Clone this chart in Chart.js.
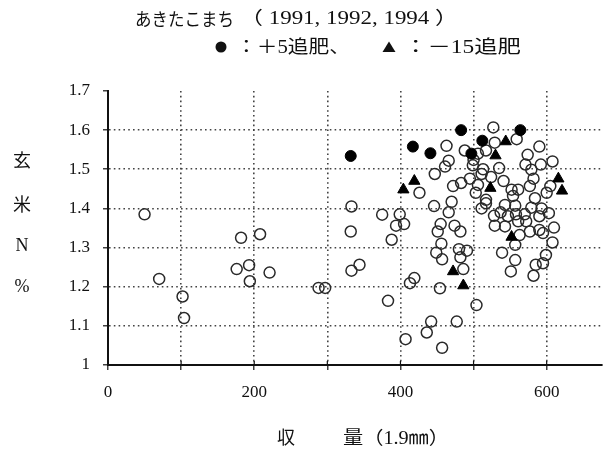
<!DOCTYPE html>
<html><head><meta charset="utf-8">
<script src="https://cdn.jsdelivr.net/npm/chart.js@4/dist/chart.umd.min.js"></script>
<style>html,body{margin:0;padding:0;background:#fff}#wrap{width:609px;height:450px;position:relative}</style>
</head><body><div id="wrap"><canvas id="c" width="609" height="450"></canvas></div>
<script>
// ---- data ----
const titleText = "あきたこまち";
const titleYears = "（ 1991, 1992, 1994 ）";
const legendPlus = "：＋5追肥、";
const legendMinus = "：－15追肥";
const xAxisTitle = ["収", "量（1.9㎜）"];
const yAxisTitle = ["玄", "米", "N", "%"];
const xTickValues = [0, 100, 200, 300, 400, 500, 600];
const xTickLabels = ["0", "", "200", "", "400", "", "600"];
const yTickValues = [1.0, 1.1, 1.2, 1.3, 1.4, 1.5, 1.6, 1.7];
const yTickLabels = ["1", "1.1", "1.2", "1.3", "1.4", "1.5", "1.6", "1.7"];

const openX = [50,70,102,104,182,208,176,193,194,221,288,297,
 527,559,529,463,590,488,517,506,500,574,466,461,571,592,608,447,535,513,511,579,582,495,483,524,541,472,506,503,426,577,605,600,552,561,517,554,584,470,446,511,543,557,579,593,603,466,528,537,547,558,570,590,375,333,399,394,405,455,474,529,543,561,572,590,610,577,332,388,451,482,563,595,608,557,456,449,457,480,491,482,486,539,557,551,599,595,585,582,333,344,419,413,454,383,504,442,436,477,407,457,499,517];
const openY = [1.385,1.22,1.175,1.12,1.325,1.334,1.245,1.255,1.214,1.236,1.197,1.197,
 1.607,1.577,1.568,1.56,1.558,1.548,1.548,1.54,1.524,1.537,1.522,1.507,1.512,1.512,1.52,1.488,1.503,1.50,1.488,1.499,1.476,1.476,1.465,1.48,1.47,1.457,1.46,1.44,1.44,1.457,1.457,1.44,1.448,1.448,1.422,1.432,1.426,1.417,1.406,1.40,1.409,1.407,1.402,1.40,1.388,1.39,1.381,1.39,1.38,1.385,1.385,1.38,1.384,1.405,1.385,1.356,1.36,1.36,1.356,1.356,1.354,1.367,1.367,1.345,1.351,1.341,1.341,1.32,1.341,1.341,1.332,1.337,1.313,1.307,1.31,1.287,1.27,1.296,1.292,1.275,1.245,1.287,1.268,1.239,1.281,1.26,1.256,1.228,1.241,1.256,1.222,1.209,1.196,1.164,1.153,1.111,1.083,1.111,1.066,1.044,1.51,1.413];
const plus5X = [332,417,441,483,512,497,564];
const plus5Y = [1.534,1.558,1.541,1.60,1.573,1.54,1.60];
const minus15X = [404,419,544,530,523,616,621,552,472,486];
const minus15Y = [1.448,1.47,1.571,1.535,1.452,1.476,1.445,1.327,1.239,1.203];

// ---- build ----
const pts = (xs, ys) => xs.map((x, i) => ({x: x, y: ys[i]}));
const SERIF = "'Liberation Serif', 'Noto Sans CJK JP', serif";
const CJK = "'Noto Sans CJK JP', 'Liberation Serif', serif";

function fitText(ctx, txt, x, y, width) {
  const w = ctx.measureText(txt).width;
  ctx.save();
  ctx.translate(x, y);
  ctx.scale(width / w, 1);
  ctx.fillText(txt, 0, 0);
  ctx.restore();
}

const decor = {
  id: 'decor',
  afterDraw(chart) {
    const ctx = chart.ctx;
    const xs = chart.scales.x, ys = chart.scales.y;
    ctx.save();
    // inner tick marks on x axis
    ctx.strokeStyle = '#111';
    ctx.lineWidth = 1.2;
    xTickValues.forEach(v => {
      const px = xs.getPixelForValue(v);
      ctx.beginPath(); ctx.moveTo(px, ys.bottom - 4); ctx.lineTo(px, ys.bottom); ctx.stroke();
    });
    ctx.fillStyle = '#111';
    ctx.textBaseline = 'middle';
    ctx.textAlign = 'left';
    // title
    ctx.font = '18px ' + CJK;
    fitText(ctx, titleText, 135, 19, 99);
    ctx.font = '18px ' + SERIF;
    fitText(ctx, titleYears, 240, 19, 218);
    // legend
    ctx.beginPath(); ctx.arc(221, 47, 5.5, 0, Math.PI * 2); ctx.fill();
    fitText(ctx, legendPlus, 236, 48, 114);
    ctx.beginPath(); ctx.moveTo(389, 41.5); ctx.lineTo(395.5, 52); ctx.lineTo(382.5, 52); ctx.closePath(); ctx.fill();
    fitText(ctx, legendMinus, 404, 48, 117);
    // y title stacked
    ctx.textAlign = 'center';
    ctx.font = '18px ' + SERIF;
    const yPos = [162, 206, 246, 287];
    yAxisTitle.forEach((t, i) => ctx.fillText(t, 22, yPos[i]));
    // x title
    ctx.fillText(xAxisTitle[0], 286, 439);
    ctx.textAlign = 'left';
    fitText(ctx, xAxisTitle[1], 343, 439, 106);
    ctx.restore();
  }
};

new Chart(document.getElementById('c'), {
  type: 'scatter',
  data: {
    datasets: [
      { label: '+5', data: pts(plus5X, plus5Y), pointStyle: 'circle', pointRadius: 5.5, backgroundColor: '#000', borderColor: '#000', borderWidth: 1, order: 1 },
      { label: '-15', data: pts(minus15X, minus15Y), pointStyle: 'triangle', pointRadius: 6.5, backgroundColor: '#000', borderColor: '#000', borderWidth: 1, order: 2 },
      { label: 'other', data: pts(openX, openY), pointStyle: 'circle', pointRadius: 5.5, backgroundColor: 'rgba(0,0,0,0)', borderColor: '#2a2a2a', borderWidth: 1.5, order: 3 }
    ]
  },
  options: {
    responsive: false,
    animation: false,
    devicePixelRatio: 1,
    layout: { padding: { left: 0, top: 91, right: 7, bottom: 0 } },
    plugins: { legend: { display: false }, tooltip: { enabled: false }, title: { display: false } },
    scales: {
      x: {
        type: 'linear', min: 0, max: 675,
        afterFit: s => { s.height = 85; },
        afterBuildTicks: s => { s.ticks = xTickValues.map(v => ({ value: v })); },
        ticks: {
          autoSkip: false, maxRotation: 0, padding: 12,
          color: '#111', font: { family: SERIF, size: 17 },
          callback: (v) => { const i = xTickValues.indexOf(v); return i >= 0 ? xTickLabels[i] : ''; }
        },
        grid: {
          color: c => (c.tick && c.tick.value === 0) ? 'rgba(0,0,0,0)' : '#444',
          lineWidth: 1.6, drawTicks: true, tickLength: 5, tickColor: '#111', tickWidth: 1.2
        },
        border: { display: true, color: '#111', width: 2, dash: [1.6, 3.2] }
      },
      y: {
        type: 'linear', min: 1, max: 1.7,
        afterFit: s => { s.width = 108; },
        afterBuildTicks: s => { s.ticks = yTickValues.map(v => ({ value: v })); },
        ticks: {
          autoSkip: false, padding: 13,
          color: '#111', font: { family: SERIF, size: 17 },
          callback: (v) => { const i = yTickValues.findIndex(t => Math.abs(t - v) < 1e-6); return i >= 0 ? yTickLabels[i] : ''; }
        },
        grid: {
          color: c => (c.tick && (Math.abs(c.tick.value - 1) < 1e-6 || Math.abs(c.tick.value - 1.7) < 1e-6)) ? 'rgba(0,0,0,0)' : '#444',
          lineWidth: 1.6, drawTicks: true, tickLength: 5, tickColor: '#111', tickWidth: 1.2
        },
        border: { display: true, color: '#111', width: 2, dash: [1.6, 3.2] }
      }
    }
  },
  plugins: [decor]
});
</script>
</body></html>
